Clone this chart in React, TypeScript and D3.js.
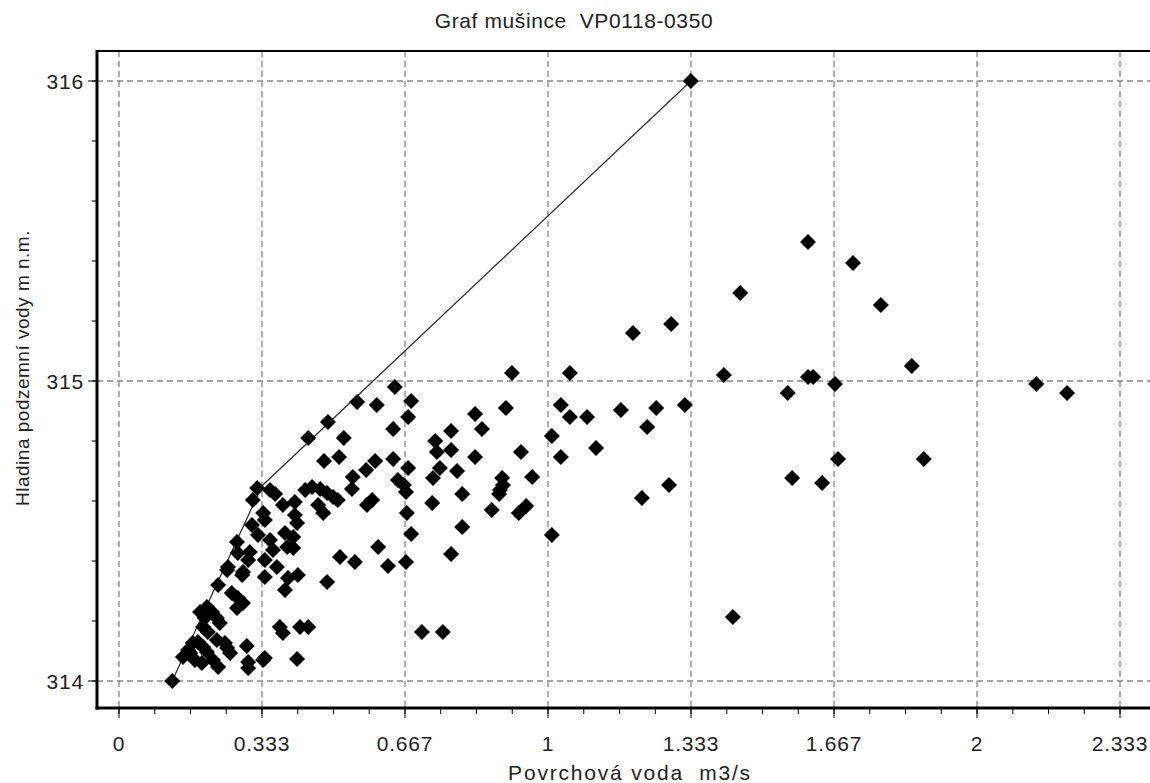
import * as d3 from 'd3';
import React from 'react';

// scatter: surface flow (m3/s) vs groundwater level (m n.m.)
const flow = [
  1.333, 1.606, 1.711, 1.448, 1.776, 1.198, 1.287, 1.848, 0.916, 1.051,
  1.410, 1.606, 1.618, 1.669, 1.559, 2.138, 2.210, 0.902, 1.030, 1.051,
  1.091, 1.170, 1.252, 1.319, 1.231, 1.009, 1.112, 1.030, 0.937, 0.893,
  0.895, 0.886, 0.963, 0.869, 0.932, 0.949, 1.219, 1.282, 1.676, 1.876,
  1.569, 1.639, 1.009, 1.431, 0.830, 0.846, 0.774, 0.737, 0.741, 0.774,
  0.830, 0.748, 0.732, 0.788, 0.800, 0.730, 0.888, 0.800, 0.774, 0.643,
  0.681, 0.674, 0.639, 0.555, 0.601, 0.487, 0.524, 0.441, 0.513, 0.478,
  0.597, 0.639, 0.674, 0.576, 0.545, 0.543, 0.650, 0.664, 0.669, 0.578,
  0.590, 0.671, 0.681, 0.604, 0.515, 0.550, 0.627, 0.669, 0.485, 0.375,
  0.382, 0.422, 0.441, 0.706, 0.755, 0.336, 0.415, 0.434, 0.450, 0.469,
  0.485, 0.499, 0.510, 0.410, 0.382, 0.464, 0.476, 0.410, 0.415, 0.387,
  0.406, 0.392, 0.406, 0.322, 0.352, 0.364, 0.312, 0.336, 0.340, 0.310,
  0.324, 0.352, 0.359, 0.275, 0.277, 0.305, 0.301, 0.254, 0.340, 0.368,
  0.287, 0.340, 0.394, 0.417, 0.231, 0.387, 0.124, 0.263, 0.277, 0.289,
  0.275, 0.205, 0.217, 0.228, 0.235, 0.189, 0.200, 0.196, 0.207, 0.172,
  0.161, 0.149, 0.184, 0.196, 0.228, 0.247, 0.252, 0.259, 0.205, 0.219,
  0.231, 0.177, 0.193, 0.298, 0.301, 0.301, 0.340, 0.252, 0.289, 0.166,
];
const level = [
  316.000, 315.463, 315.393, 315.293, 315.253, 315.160, 315.190, 315.050, 315.027, 315.027,
  315.020, 315.013, 315.013, 314.990, 314.960, 314.990, 314.960, 314.910, 314.920, 314.880,
  314.880, 314.903, 314.910, 314.920, 314.847, 314.817, 314.777, 314.747, 314.763, 314.677,
  314.653, 314.623, 314.680, 314.570, 314.560, 314.583, 314.610, 314.653, 314.740, 314.740,
  314.677, 314.660, 314.487, 314.213, 314.890, 314.840, 314.833, 314.800, 314.763, 314.770,
  314.747, 314.710, 314.677, 314.700, 314.623, 314.593, 314.637, 314.513, 314.423, 314.980,
  314.933, 314.880, 314.840, 314.930, 314.920, 314.863, 314.810, 314.810, 314.747, 314.733,
  314.733, 314.740, 314.710, 314.703, 314.680, 314.640, 314.670, 314.653, 314.630, 314.587,
  314.603, 314.560, 314.490, 314.447, 314.413, 314.397, 314.383, 314.397, 314.330, 314.180,
  314.160, 314.180, 314.180, 314.163, 314.163, 314.070, 314.073, 314.637, 314.647, 314.640,
  314.627, 314.613, 314.603, 314.597, 314.587, 314.587, 314.560, 314.553, 314.527, 314.493,
  314.480, 314.447, 314.443, 314.643, 314.637, 314.623, 314.603, 314.560, 314.537, 314.520,
  314.487, 314.470, 314.437, 314.463, 314.427, 314.430, 314.403, 314.380, 314.403, 314.380,
  314.353, 314.347, 314.343, 314.353, 314.320, 314.303, 314.000, 314.293, 314.277, 314.260,
  314.243, 314.247, 314.230, 314.210, 314.193, 314.230, 314.210, 314.180, 314.163, 314.127,
  314.103, 314.080, 314.130, 314.113, 314.137, 314.127, 314.110, 314.093, 314.097, 314.070,
  314.047, 314.070, 314.060, 314.117, 314.063, 314.043, 314.077, 314.370, 314.363, 314.093,
];

// envelope line
const envFlow = [0.124, 0.333, 1.333];
const envLevel = [314.0, 314.65, 316.0];

const xTicks = [0, 1 / 3, 2 / 3, 1, 4 / 3, 5 / 3, 2, 7 / 3];
const xTickLabels = ['0', '0.333', '0.667', '1', '1.333', '1.667', '2', '2.333'];
const yTicks = [314, 315, 316];
const yTickLabels = ['314', '315', '316'];

const title = 'Graf mušince  VP0118-0350';
const xTitle = 'Povrchová voda  m3/s';
const yTitle = 'Hladina podzemní vody m n.m.';

const W = 1150, H = 783;
const plot = { left: 97, right: 1153, top: 51, bottom: 708 };
const font = '"Liberation Sans", Arial, sans-serif';

export default function App() {
  const x = d3.scaleLinear().domain([0, 7 / 3]).range([119, 1120]);
  const y = d3.scaleLinear().domain([314, 316]).range([681, 81]);

  const xMinor = d3.range(0, 29).map(i => i / 12).filter(v => x(v) < plot.right);
  const yMinor = d3.range(0, 11).map(i => 314 + i * 0.2);

  const diamond = 'M0,-8L8,0L0,8L-8,0Z';
  const line = d3.line<number>().x(i => x(envFlow[i])).y(i => y(envLevel[i]))(envFlow.map((_, i) => i));
  const gridStyle = { stroke: '#888', strokeWidth: 1.3, strokeDasharray: '6,4' };

  return (
    <svg width={W} height={H} style={{ position: 'absolute', left: 0, top: 0, background: '#fff' }}
      fontFamily={font}>
      <rect width={W} height={H} fill="#fff" />
      <text x={574} y={28} textAnchor="middle" fontSize={21} letterSpacing={0.6} fill="#222"
        style={{ whiteSpace: 'pre' }}>{title}</text>

      {/* grid */}
      {xTicks.map((v, i) => (
        <line key={'gx' + i} x1={x(v)} x2={x(v)} y1={plot.top} y2={plot.bottom} {...gridStyle} />
      ))}
      {yTicks.map((v, i) => (
        <line key={'gy' + i} x1={plot.left} x2={plot.right} y1={y(v)} y2={y(v)} {...gridStyle} />
      ))}

      {/* envelope */}
      <path d={line || ''} fill="none" stroke="#333" strokeWidth={1.3} />

      {/* points */}
      {flow.map((f, i) => (
        <path key={'p' + i} d={diamond} transform={`translate(${x(f)},${y(level[i])})`} fill="#000" />
      ))}

      {/* frame */}
      <line x1={plot.left} x2={plot.right} y1={plot.top} y2={plot.top} stroke="#000" strokeWidth={2} />
      <line x1={plot.left} x2={plot.left} y1={plot.top - 1} y2={plot.bottom + 1.5} stroke="#000" strokeWidth={3} />
      <line x1={plot.left - 1.5} x2={plot.right} y1={plot.bottom} y2={plot.bottom} stroke="#000" strokeWidth={3} />

      {/* x ticks */}
      {xMinor.map((v, i) => (
        <line key={'xm' + i} x1={x(v)} x2={x(v)} y1={plot.bottom} y2={plot.bottom + 6} stroke="#000" strokeWidth={1} />
      ))}
      {xTicks.map((v, i) => (
        <g key={'xt' + i}>
          <line x1={x(v)} x2={x(v)} y1={plot.bottom} y2={plot.bottom + 10} stroke="#000" strokeWidth={1} />
          <text x={x(v)} y={751} textAnchor="middle" fontSize={21} letterSpacing={0.8} fill="#222">{xTickLabels[i]}</text>
        </g>
      ))}

      {/* y ticks */}
      {yMinor.map((v, i) => (
        <line key={'ym' + i} x1={plot.left - 5} x2={plot.left} y1={y(v)} y2={y(v)} stroke="#000" strokeWidth={1} />
      ))}
      {yTicks.map((v, i) => (
        <g key={'yt' + i}>
          <line x1={plot.left - 9} x2={plot.left} y1={y(v)} y2={y(v)} stroke="#000" strokeWidth={1} />
          <text x={84} y={y(v)} dy="0.36em" textAnchor="end" fontSize={21} letterSpacing={0.8} fill="#222">{yTickLabels[i]}</text>
        </g>
      ))}

      <text x={630} y={780} textAnchor="middle" fontSize={21} letterSpacing={1.8} fill="#222"
        style={{ whiteSpace: 'pre' }}>{xTitle}</text>
      <text transform="translate(29,368) rotate(-90)" textAnchor="middle" fontSize={19} letterSpacing={0.5} fill="#222">{yTitle}</text>
    </svg>
  );
}
